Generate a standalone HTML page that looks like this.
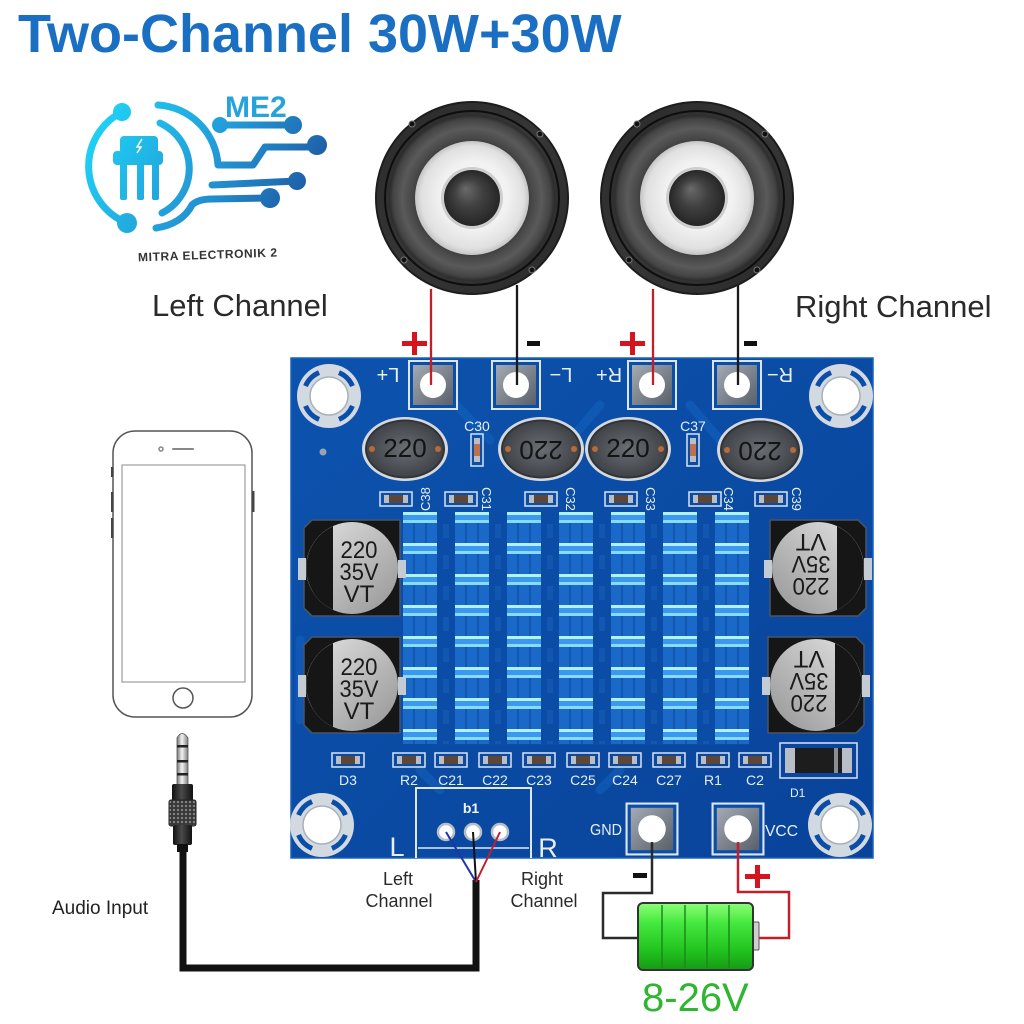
<!DOCTYPE html>
<html><head><meta charset="utf-8">
<style>
html,body{margin:0;padding:0;background:#fff;}
svg{display:block;}
text{font-family:"Liberation Sans",sans-serif;}
</style></head><body>
<svg width="1024" height="1024" viewBox="0 0 1024 1024" xmlns="http://www.w3.org/2000/svg">
<defs>
  <linearGradient id="logoG" gradientUnits="userSpaceOnUse" x1="95" y1="100" x2="315" y2="235">
    <stop offset="0" stop-color="#1ed8f8"/>
    <stop offset="0.5" stop-color="#239bd8"/>
    <stop offset="1" stop-color="#1c4a96"/>
  </linearGradient>
  <linearGradient id="frameG" x1="0" y1="0" x2="1" y2="1">
    <stop offset="0" stop-color="#2a2a2a"/>
    <stop offset="0.5" stop-color="#363636"/>
    <stop offset="1" stop-color="#2a2a2a"/>
  </linearGradient>
  <radialGradient id="surG" cx="0.5" cy="0.5" r="0.5">
    <stop offset="0" stop-color="#333"/>
    <stop offset="0.66" stop-color="#3a3a3a"/>
    <stop offset="0.72" stop-color="#474747"/>
    <stop offset="0.84" stop-color="#5a5a5a"/>
    <stop offset="0.95" stop-color="#444"/>
    <stop offset="1" stop-color="#2a2a2a"/>
  </radialGradient>
  <radialGradient id="coneG" cx="0.5" cy="0.5" r="0.5" fx="0.55" fy="0.45">
    <stop offset="0" stop-color="#fafafa"/>
    <stop offset="0.6" stop-color="#f1f1f1"/>
    <stop offset="0.9" stop-color="#e0e0e0"/>
    <stop offset="1" stop-color="#c4c4c4"/>
  </radialGradient>
  <radialGradient id="domeG" cx="0.5" cy="0.5" r="0.5" fx="0.38" fy="0.33">
    <stop offset="0" stop-color="#6a6a6a"/>
    <stop offset="0.5" stop-color="#404040"/>
    <stop offset="1" stop-color="#262626"/>
  </radialGradient>
  <linearGradient id="boardG" x1="0" y1="0" x2="1" y2="1">
    <stop offset="0" stop-color="#0c53ae"/>
    <stop offset="1" stop-color="#09439a"/>
  </linearGradient>
  <linearGradient id="padG" x1="0" y1="0" x2="1" y2="1">
    <stop offset="0" stop-color="#a3aab3"/>
    <stop offset="1" stop-color="#5a6069"/>
  </linearGradient>
  <radialGradient id="indG" cx="0.5" cy="0.5" r="0.5">
    <stop offset="0" stop-color="#6a6e75"/>
    <stop offset="1" stop-color="#404348"/>
  </radialGradient>
  <linearGradient id="capG" x1="0" y1="0" x2="1" y2="1">
    <stop offset="0" stop-color="#e2e2e2"/>
    <stop offset="0.5" stop-color="#bcbcbc"/>
    <stop offset="1" stop-color="#959595"/>
  </linearGradient>
  <linearGradient id="battG" x1="0" y1="0" x2="0" y2="1">
    <stop offset="0" stop-color="#8dff78"/>
    <stop offset="0.3" stop-color="#45e83e"/>
    <stop offset="0.7" stop-color="#22c41f"/>
    <stop offset="1" stop-color="#169a16"/>
  </linearGradient>
  <linearGradient id="tipG" x1="0" y1="0" x2="1" y2="0">
    <stop offset="0" stop-color="#777"/>
    <stop offset="0.45" stop-color="#f2f2f2"/>
    <stop offset="1" stop-color="#808080"/>
  </linearGradient>
  <linearGradient id="jackG" x1="0" y1="0" x2="1" y2="0">
    <stop offset="0" stop-color="#111"/>
    <stop offset="0.45" stop-color="#4a4a4a"/>
    <stop offset="1" stop-color="#111"/>
  </linearGradient>
  <pattern id="knurl" patternUnits="userSpaceOnUse" width="4" height="4">
    <rect width="4" height="4" fill="#3a3a3a"/>
    <circle cx="2" cy="2" r="1.1" fill="#8a8a8a"/>
  </pattern>
  <pattern id="hs" patternUnits="userSpaceOnUse" x="403" y="512" width="52" height="31">
    <rect x="0" y="0" width="34" height="31" fill="#1a68c8"/>
    <rect x="10" y="0" width="2" height="31" fill="#1257b0"/>
    <rect x="22" y="0" width="2" height="31" fill="#1257b0"/>
    <rect x="0" y="0" width="34" height="11" fill="#3c97ee"/>
    <rect x="0" y="0" width="34" height="3" fill="#b0f2ff"/>
    <rect x="0" y="8" width="34" height="3" fill="#86dcff"/>
    <rect x="34" y="0" width="18" height="31" fill="#0b4ca6"/>
    <rect x="40" y="12" width="6" height="14" fill="#1257b2"/>
  </pattern>

  <g id="spk">
    <circle r="97" fill="#1d1d1d"/>
    <circle r="95" fill="url(#frameG)"/>
    <circle r="87" fill="none" stroke="#0e0e0e" stroke-width="2"/>
    <circle r="83" fill="url(#surG)"/>
    <circle r="57" fill="url(#coneG)"/>
    <circle r="31" fill="#7a7a7a" opacity="0.3"/>
    <circle r="28" fill="url(#domeG)"/>
    <circle cx="-60" cy="-74" r="3" fill="#111" stroke="#777" stroke-width="1"/>
    <circle cx="68" cy="-64" r="3" fill="#111" stroke="#777" stroke-width="1"/>
    <circle cx="-68" cy="62" r="3" fill="#111" stroke="#777" stroke-width="1"/>
    <circle cx="60" cy="72" r="3" fill="#111" stroke="#777" stroke-width="1"/>
  </g>
  <g id="mh">
    <circle r="32" fill="#d3d9e1"/>
    <path d="M23.47,9.96 A25.5,25.5 0 0 1 9.96,23.47 M-9.96,23.47 A25.5,25.5 0 0 1 -23.47,9.96 M-23.47,-9.96 A25.5,25.5 0 0 1 -9.96,-23.47 M9.96,-23.47 A25.5,25.5 0 0 1 23.47,-9.96" fill="none" stroke="#0b4ea8" stroke-width="5"/>
    <circle r="19" fill="#fff" stroke="#a8b0ba" stroke-width="1.5"/>
  </g>
  <g id="pad">
    <rect x="-24" y="-24" width="48" height="48" fill="#0b4ea8" stroke="#dbe6f1" stroke-width="2"/>
    <rect x="-20" y="-20" width="40" height="40" fill="url(#padG)"/>
    <circle r="13" fill="#fff"/>
  </g>
  <g id="ind">
    <ellipse rx="43" ry="32" fill="#d5d9de"/>
    <ellipse rx="40" ry="29.5" fill="#303337"/>
    <ellipse rx="38" ry="27.5" fill="url(#indG)"/>
    <circle cx="-33" cy="0" r="3" fill="#b86a3a"/>
    <circle cx="33" cy="0" r="3" fill="#b86a3a"/>
  </g>
  <g id="smdH">
    <rect x="0" y="0" width="32" height="14" fill="none" stroke="#d9e3ee" stroke-width="1.5"/>
    <rect x="4" y="3" width="24" height="8" fill="#b9bec6"/>
    <rect x="9" y="3" width="14" height="8" fill="#5b4638"/>
  </g>
  <g id="smdV">
    <rect x="0" y="0" width="12" height="32" fill="none" stroke="#d9e3ee" stroke-width="1.5"/>
    <rect x="3" y="4" width="6" height="24" fill="#b9bec6"/>
    <rect x="3" y="10" width="6" height="12" fill="#c0704a"/>
  </g>
  <g id="capBody">
    <path d="M-40,-48 H48 V48 H-40 L-48,40 V-40 Z" fill="#161616" stroke="#4a5566" stroke-width="1.5"/>
    <rect x="-54" y="-10" width="8" height="22" fill="#c5cbd2"/>
    <rect x="46" y="-8" width="8" height="18" fill="#c5cbd2"/>
    <circle r="46" fill="url(#capG)"/>
    <path d="M-19,-41.8 A46,46 0 0 0 -19,41.8 Z" fill="#161616"/>
  </g>
</defs>

<rect width="1024" height="1024" fill="#fff"/>

<!-- Title -->
<text x="18" y="52" font-size="54" font-weight="bold" fill="#1b6fc2">Two-Channel 30W+30W</text>

<!-- Logo -->
<g fill="none" stroke="url(#logoG)" stroke-width="7" stroke-linecap="round" stroke-linejoin="round">
  <path d="M122,112 A61,61 0 0 0 127,223"/>
  <path d="M158,105 A64,64 0 0 1 218,165 L253,165 L265,147 L310,147"/>
  <path d="M160,123 A50,50 0 0 1 162,213"/>
  <path d="M220,125 L293,125"/>
  <path d="M212,185 L297,181"/>
  <path d="M156,228 Q182,224 192,205 Q198,199 212,199 L268,198"/>
</g>
<g fill="url(#logoG)">
  <circle cx="122" cy="112" r="9"/>
  <circle cx="127" cy="223" r="10"/>
  <circle cx="317" cy="145" r="10"/>
  <circle cx="220" cy="125" r="8"/>
  <circle cx="293" cy="125" r="9"/>
  <circle cx="297" cy="181" r="9"/>
  <circle cx="270" cy="198" r="10"/>
  <rect x="120" y="136" width="38" height="18" rx="4"/>
  <rect x="113" y="151" width="50" height="14" rx="4"/>
  <rect x="120" y="163" width="7" height="37" rx="2"/>
  <rect x="137" y="163" width="7" height="37" rx="2"/>
  <rect x="152" y="163" width="7" height="37" rx="2"/>
</g>
<path d="M142,139 L137,147 L141,147 L137,153" stroke="#fff" stroke-width="1.5" fill="none"/>
<text x="225" y="117" font-size="30" font-weight="bold" fill="#27a3dc">ME2</text>
<text x="138" y="259" font-size="12" font-weight="bold" letter-spacing="0.6" fill="#333" transform="rotate(-2 207 255)">MITRA ELECTRONIK 2</text>

<!-- Speakers -->
<use href="#spk" transform="translate(472,198)"/>
<use href="#spk" transform="translate(697,198)"/>

<text x="152" y="316" font-size="31" fill="#2a2a2a">Left Channel</text>
<text x="795" y="317" font-size="31" fill="#2a2a2a">Right Channel</text>

<!-- PCB board -->
<rect x="291" y="358" width="582" height="500" fill="url(#boardG)" stroke="#1a62bd" stroke-width="1.5"/>
<g fill="none" stroke="#1360bd" stroke-width="9" opacity="0.6" stroke-linecap="round">
  <path d="M456,405 L490,440"/>
  <path d="M600,405 L570,440"/>
  <path d="M690,405 L720,440"/>
  <path d="M300,640 L300,720"/>
  <path d="M440,790 L420,770"/>
  <path d="M600,790 L620,770"/>
</g>
<circle cx="323" cy="452" r="3.5" fill="#9aa4b0"/>

<!-- mount holes -->
<use href="#mh" transform="translate(329,396)"/>
<use href="#mh" transform="translate(841,396)"/>
<use href="#mh" transform="translate(322,825)"/>
<use href="#mh" transform="translate(840,825)"/>

<!-- speaker pads -->
<use href="#pad" transform="translate(433,385)"/>
<use href="#pad" transform="translate(516,385)"/>
<use href="#pad" transform="translate(652,385)"/>
<use href="#pad" transform="translate(737,385)"/>
<g font-size="20" fill="#e8eef5" text-anchor="middle">
  <text x="388" y="382" transform="rotate(180 388 375)">L+</text>
  <text x="561" y="382" transform="rotate(180 561 375)">L−</text>
  <text x="609" y="382" transform="rotate(180 609 375)">R+</text>
  <text x="780" y="382" transform="rotate(180 780 375)">R−</text>
</g>

<!-- inductors -->
<use href="#ind" transform="translate(405,449)"/>
<use href="#ind" transform="translate(541,449)"/>
<use href="#ind" transform="translate(628,449)"/>
<use href="#ind" transform="translate(760,450)"/>
<g font-size="26" fill="#141414" text-anchor="middle">
  <text x="405" y="457">220</text>
  <text x="541" y="457" transform="rotate(180 541 449)">220</text>
  <text x="628" y="457">220</text>
  <text x="760" y="458" transform="rotate(180 760 450)">220</text>
</g>

<!-- C30 / C37 -->
<g font-size="14" fill="#e6eef7" text-anchor="middle">
  <text x="477" y="431">C30</text>
  <text x="693" y="431">C37</text>
</g>
<use href="#smdV" transform="translate(471,434)"/>
<use href="#smdV" transform="translate(687,434)"/>

<!-- top SMD row -->
<use href="#smdH" transform="translate(380,492)"/>
<use href="#smdH" transform="translate(445,492)"/>
<use href="#smdH" transform="translate(525,492)"/>
<use href="#smdH" transform="translate(605,492)"/>
<use href="#smdH" transform="translate(689,492)"/>
<use href="#smdH" transform="translate(755,492)"/>
<g font-size="13" fill="#e6eef7" text-anchor="middle">
  <text x="425" y="504" transform="rotate(-90 425 499)">C38</text>
  <text x="487" y="504" transform="rotate(90 487 499)">C31</text>
  <text x="571" y="504" transform="rotate(90 571 499)">C32</text>
  <text x="651" y="504" transform="rotate(90 651 499)">C33</text>
  <text x="729" y="504" transform="rotate(90 729 499)">C34</text>
  <text x="797" y="504" transform="rotate(90 797 499)">C39</text>
</g>

<!-- heatsink -->
<rect x="402" y="511" width="348" height="234" fill="#0b4ca6"/>
<rect x="403" y="512" width="346" height="232" fill="url(#hs)"/>

<!-- electrolytic caps -->
<use href="#capBody" transform="translate(352,568)"/>
<use href="#capBody" transform="translate(352,685)"/>
<use href="#capBody" transform="translate(818,568) scale(-1,1)"/>
<use href="#capBody" transform="translate(816,685) scale(-1,1)"/>
<g font-size="24" fill="#1a1a1a" text-anchor="middle">
  <text x="359" y="558" textLength="37" lengthAdjust="spacingAndGlyphs">220</text>
  <text x="359" y="580" textLength="39" lengthAdjust="spacingAndGlyphs">35V</text>
  <text x="359" y="602">VT</text>
  <text x="359" y="675" textLength="37" lengthAdjust="spacingAndGlyphs">220</text>
  <text x="359" y="697" textLength="39" lengthAdjust="spacingAndGlyphs">35V</text>
  <text x="359" y="719">VT</text>
  <g transform="rotate(180 818 568)">
    <text x="825" y="558" textLength="37" lengthAdjust="spacingAndGlyphs">220</text>
    <text x="825" y="580" textLength="39" lengthAdjust="spacingAndGlyphs">35V</text>
    <text x="825" y="602">VT</text>
  </g>
  <g transform="rotate(180 816 685)">
    <text x="823" y="675" textLength="37" lengthAdjust="spacingAndGlyphs">220</text>
    <text x="823" y="697" textLength="39" lengthAdjust="spacingAndGlyphs">35V</text>
    <text x="823" y="719">VT</text>
  </g>
</g>

<!-- bottom SMD row -->
<use href="#smdH" transform="translate(332,753)"/>
<use href="#smdH" transform="translate(393,753)"/>
<use href="#smdH" transform="translate(435,753)"/>
<use href="#smdH" transform="translate(479,753)"/>
<use href="#smdH" transform="translate(523,753)"/>
<use href="#smdH" transform="translate(567,753)"/>
<use href="#smdH" transform="translate(609,753)"/>
<use href="#smdH" transform="translate(653,753)"/>
<use href="#smdH" transform="translate(697,753)"/>
<use href="#smdH" transform="translate(739,753)"/>
<g font-size="14" fill="#e6eef7" text-anchor="middle">
  <text x="348" y="785">D3</text>
  <text x="409" y="785">R2</text>
  <text x="451" y="785">C21</text>
  <text x="495" y="785">C22</text>
  <text x="539" y="785">C23</text>
  <text x="583" y="785">C25</text>
  <text x="625" y="785">C24</text>
  <text x="669" y="785">C27</text>
  <text x="713" y="785">R1</text>
  <text x="755" y="785">C2</text>
</g>
<!-- D1 -->
<rect x="780" y="743" width="77" height="35" fill="none" stroke="#d9e3ee" stroke-width="1.5"/>
<rect x="785" y="748" width="67" height="25" fill="#b9bec6"/>
<rect x="795" y="748" width="47" height="25" fill="#1d1d1d"/>
<rect x="834" y="748" width="4" height="25" fill="#8a8f96"/>
<text x="790" y="797" font-size="12" fill="#e6eef7">D1</text>

<!-- input connector -->
<path d="M416,858 V788 H531 V858" fill="none" stroke="#dfe8f2" stroke-width="2"/>
<path d="M418,848 H529" fill="none" stroke="#dfe8f2" stroke-width="1.5"/>
<text x="471" y="813" font-size="14" font-weight="bold" fill="#eef3f9" text-anchor="middle">b1</text>
<g fill="#fff" stroke="#b7bec8" stroke-width="2.5">
  <circle cx="446" cy="832" r="8"/>
  <circle cx="473" cy="832" r="8"/>
  <circle cx="500" cy="832" r="8"/>
</g>
<text x="397" y="856" font-size="27" fill="#e8eef5" text-anchor="middle">L</text>
<text x="548" y="857" font-size="27" fill="#e8eef5" text-anchor="middle">R</text>

<!-- power pads -->
<use href="#pad" transform="translate(652,829) scale(1.06)"/>
<use href="#pad" transform="translate(738,829) scale(1.06)"/>
<text x="590" y="835" font-size="16" fill="#e8eef5" textLength="32" lengthAdjust="spacingAndGlyphs">GND</text>
<text x="765" y="836" font-size="16" fill="#e8eef5" textLength="33" lengthAdjust="spacingAndGlyphs">VCC</text>

<!-- speaker wires -->
<g stroke-width="2.3" fill="none">
  <path d="M431,289 V385" stroke="#c0202a"/>
  <path d="M517,285 V385" stroke="#1a1a1a"/>
  <path d="M653,289 V385" stroke="#c0202a"/>
  <path d="M738,285 V385" stroke="#1a1a1a"/>
</g>
<g fill="#d4141e">
  <rect x="402" y="341" width="25" height="5"/>
  <rect x="412" y="332" width="5" height="23"/>
  <rect x="620" y="341" width="25" height="5"/>
  <rect x="630" y="332" width="5" height="23"/>
</g>
<g fill="#111">
  <rect x="527" y="341" width="13" height="5"/>
  <rect x="744" y="341" width="13" height="5"/>
</g>

<!-- Phone -->
<g fill="none" stroke="#555" stroke-width="1.5">
  <rect x="113" y="431" width="139" height="286" rx="22"/>
  <rect x="122" y="465" width="123" height="217" stroke="#888" stroke-width="1"/>
  <circle cx="183" cy="698" r="10"/>
  <circle cx="161" cy="449" r="2" stroke="#888"/>
  <path d="M173,449 H193" stroke="#888" stroke-width="2" stroke-linecap="round"/>
</g>
<g fill="#444">
  <rect x="111" y="467" width="2.5" height="10"/>
  <rect x="111" y="492" width="2.5" height="20"/>
  <rect x="111" y="518" width="2.5" height="20"/>
  <rect x="252" y="491" width="2.5" height="21"/>
</g>

<!-- audio jack -->
<path d="M177,738 Q182,729 188,738 V786 H177 Z" fill="url(#tipG)" stroke="#555" stroke-width="0.8"/>
<rect x="177" y="745" width="11" height="2.5" fill="#222"/>
<rect x="177" y="760" width="11" height="2.5" fill="#222"/>
<rect x="177" y="773" width="11" height="2.5" fill="#222"/>
<rect x="172" y="784" width="21" height="17" rx="2" fill="url(#jackG)"/>
<rect x="169" y="800" width="27" height="26" rx="2" fill="url(#knurl)" stroke="#222" stroke-width="1"/>
<rect x="173" y="825" width="19" height="20" rx="2" fill="url(#jackG)"/>
<rect x="177" y="844" width="11" height="8" fill="#111"/>
<path d="M183,850 V968 H476 V880" fill="none" stroke="#111" stroke-width="7" stroke-linejoin="miter"/>
<g stroke-width="2" fill="none">
  <path d="M446,832 L476,882" stroke="#2233aa"/>
  <path d="M473,832 L476,882" stroke="#111"/>
  <path d="M500,832 L476,882" stroke="#c0202a"/>
</g>

<text x="52" y="914" font-size="19" fill="#222">Audio Input</text>
<g font-size="18" fill="#2a2a2a" text-anchor="middle">
  <text x="398" y="885">Left</text>
  <text x="399" y="907">Channel</text>
  <text x="542" y="885">Right</text>
  <text x="544" y="907">Channel</text>
</g>

<!-- battery wires -->
<path d="M652,842 V893 H603 V938 H638" fill="none" stroke="#2a2a2a" stroke-width="2.5"/>
<path d="M738,842 V892 H789 V938 H758" fill="none" stroke="#c0202a" stroke-width="2.5"/>
<rect x="633" y="873" width="14" height="5" fill="#111"/>
<rect x="745" y="874" width="25" height="5" fill="#d4141e"/>
<rect x="755" y="865" width="5" height="23" fill="#d4141e"/>

<!-- battery -->
<rect x="753" y="922" width="6" height="28" rx="1" fill="#cfcfcf" stroke="#555" stroke-width="1"/>
<rect x="638" y="903" width="115" height="67" rx="5" fill="url(#battG)" stroke="#333" stroke-width="2"/>
<g stroke="#1b8a1b" stroke-width="1.5">
  <path d="M662,905 V968"/>
  <path d="M685,905 V968"/>
  <path d="M707,905 V968"/>
  <path d="M729,905 V968"/>
</g>
<text x="642" y="1011" font-size="40" fill="#2fb52f">8-26V</text>
</svg>
</body></html>
